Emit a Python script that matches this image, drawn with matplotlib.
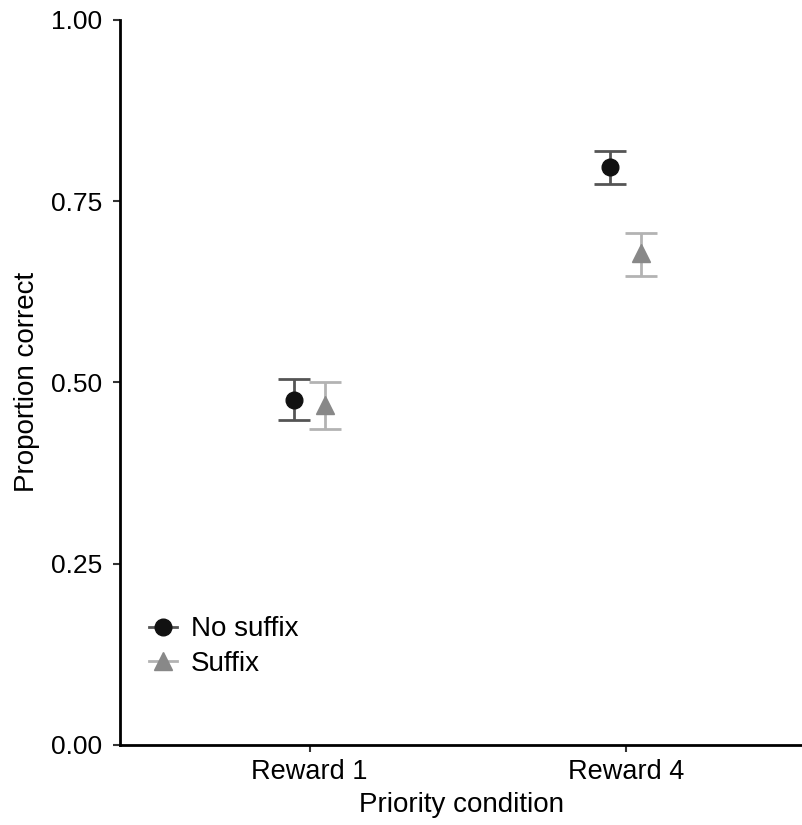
import numpy as np
import matplotlib.pyplot as plt
from matplotlib.lines import Line2D

plt.rcParams['font.family'] = ['Liberation Sans', 'DejaVu Sans']

conditions = ["Reward 1", "Reward 4"]
no_suffix_mean = [0.476, 0.797]
no_suffix_low = [0.448, 0.774]
no_suffix_high = [0.505, 0.819]
suffix_mean = [0.469, 0.679]
suffix_low = [0.436, 0.647]
suffix_high = [0.501, 0.706]

x = np.arange(1, len(conditions) + 1)
dodge = 0.05

fig = plt.figure(figsize=(8.03, 8.25), dpi=100)
ax = fig.add_axes([0.1494, 0.097, 0.8506, 0.879])

ns_m = np.array(no_suffix_mean)
s_m = np.array(suffix_mean)
ns_err = [ns_m - np.array(no_suffix_low), np.array(no_suffix_high) - ns_m]
s_err = [s_m - np.array(suffix_low), np.array(suffix_high) - s_m]

ax.errorbar(x - dodge, ns_m, yerr=ns_err, fmt='none', ecolor='#555555',
            elinewidth=2, capsize=11.5, capthick=2, zorder=2)
ax.plot(x - dodge, ns_m, 'o', color='#111111', markersize=12, zorder=3)
ax.errorbar(x + dodge, s_m, yerr=s_err, fmt='none', ecolor='#b3b3b3',
            elinewidth=2, capsize=11.5, capthick=2, zorder=2)
ax.plot(x + dodge, s_m, '^', color='#888888', markersize=13, zorder=3)

ax.set_xlim(0.4, 2.561)
ax.set_ylim(0, 1)
ax.set_xticks(x)
ax.set_xticklabels(conditions)
ax.set_yticks([0, 0.25, 0.5, 0.75, 1.0])
ax.set_yticklabels(["0.00", "0.25", "0.50", "0.75", "1.00"])
ax.tick_params(width=1.5, length=5, color='#333333')
ax.tick_params(axis='x', labelsize=19.5, pad=5)
ax.tick_params(axis='y', labelsize=19, pad=8)

for s in ['top', 'right']:
    ax.spines[s].set_visible(False)
for s in ['left', 'bottom']:
    ax.spines[s].set_linewidth(2)

ax.set_xlabel("Priority condition", fontsize=20, labelpad=5)
ax.set_ylabel("Proportion correct", fontsize=20, labelpad=8)

handles = [
    Line2D([], [], color='#555555', lw=2, marker='o', markersize=12,
           markerfacecolor='#111111', markeredgecolor='#111111'),
    Line2D([], [], color='#b3b3b3', lw=2, marker='^', markersize=13,
           markerfacecolor='#888888', markeredgecolor='#888888'),
]
ax.legend(handles, ["No suffix", "Suffix"], loc='lower left',
          bbox_to_anchor=(0.026, 0.079), frameon=False, fontsize=20,
          handlelength=1.0, handletextpad=0.5, labelspacing=0.3,
          borderaxespad=0)

fig.savefig("out.png", dpi=100)
